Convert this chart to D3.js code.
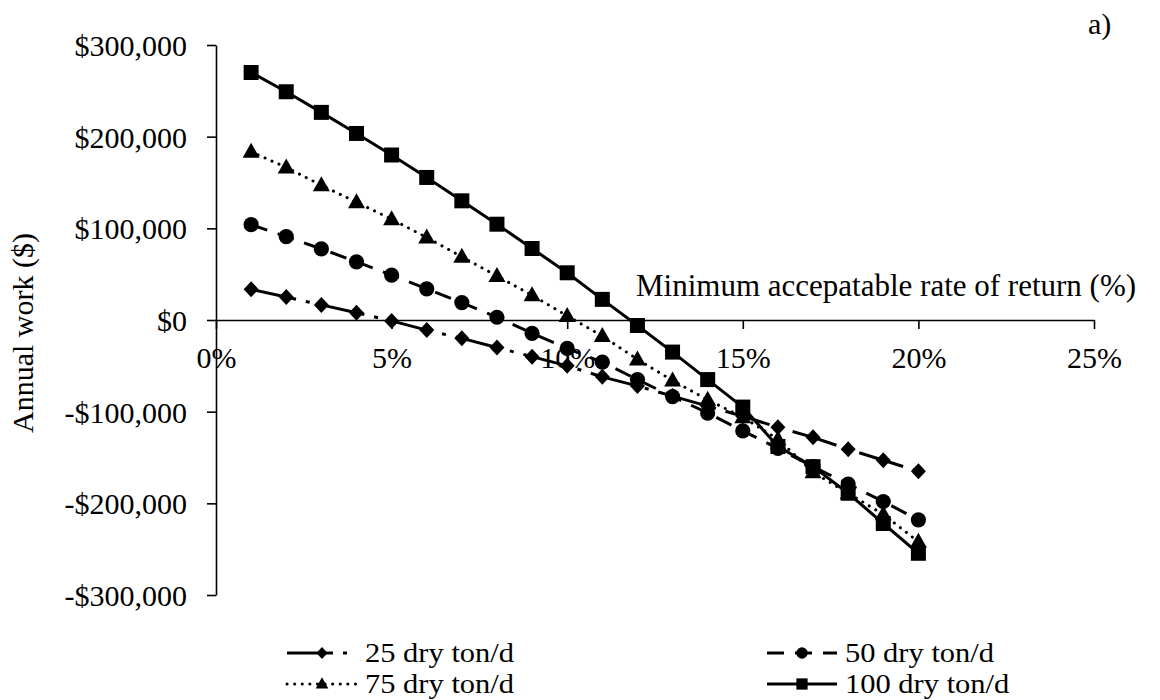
<!DOCTYPE html>
<html><head><meta charset="utf-8">
<script src="https://cdn.jsdelivr.net/npm/d3@7"></script>
<style>
body{margin:0;background:#fff}
svg{display:block}
text{font-family:"Liberation Serif","Times New Roman",serif;fill:#000}
</style>
</head><body>
<svg id="c" width="1160" height="700"></svg>
<script>
// ---- data (values in $, rates in %) ----
const rates = [1,2,3,4,5,6,7,8,9,10,11,12,13,14,15,16,17,18,19,20];
const ton25  = [33500,25000,16500,8000,-1000,-11000,-20000,-30000,-40000,-50000,-62000,-72000,-83000,-94000,-105000,-117000,-128000,-141000,-153000,-165000];
const ton50  = [104000,91000,77500,63500,49000,34000,19000,3000,-14500,-31000,-46000,-65000,-83500,-101500,-121000,-140000,-160000,-179000,-198000,-218000];
const ton75  = [183500,166500,147000,128500,110000,90000,69000,48000,27000,4500,-17500,-43000,-66000,-87000,-106000,-130000,-166000,-189000,-212000,-242000];
const ton100 = [270000,249000,226500,203500,180000,155500,130000,104500,78000,51500,22500,-6000,-35000,-65000,-95000,-138000,-160000,-189000,-222000,-254500];
const seriesNames = ["25 dry ton/d","50 dry ton/d","75 dry ton/d","100 dry ton/d"];
const xTicks = [0,5,10,15,20,25];
const yTicks = [-300000,-200000,-100000,0,100000,200000,300000];
const xTitle = "Minimum accepatable rate of return (%)";
const yTitle = "Annual work ($)";
const panelLabel = "a)";

// ---- setup ----
const svg = d3.select("#c");
const x = d3.scaleLinear().domain([0,25]).range([216,1094]);
const y = d3.scaleLinear().domain([-300000,300000]).range([595,45]);
const FS = 30;

const money = v => (v<0?"-":"") + "$" + d3.format(",")(Math.abs(v));

// y axis
const gy = svg.append("g").attr("transform","translate(216,0)")
  .call(d3.axisLeft(y).tickValues(yTicks).tickSize(9).tickSizeOuter(0).tickPadding(20).tickFormat(money));
gy.selectAll("text").attr("dy",null).attr("y",10.5).style("font-size",FS+"px").style("font-family",'"Liberation Serif",serif');
gy.selectAll("path,line").attr("stroke","#000").attr("stroke-width",1.6);

// x axis at zero
const gx = svg.append("g").attr("transform",`translate(0,${y(0)})`)
  .call(d3.axisBottom(x).tickValues(xTicks).tickSize(9).tickSizeOuter(0).tickFormat(d=>d+"%"));
gx.selectAll("text").attr("dy",null).attr("y",48).style("font-size",FS+"px").style("font-family",'"Liberation Serif",serif');
gx.selectAll("path,line").attr("stroke","#000").attr("stroke-width",1.6);

// titles
svg.append("text").attr("x",636).attr("y",296).style("font-size","31px").text(xTitle);
svg.append("text").attr("transform","translate(33,333) rotate(-90)").attr("text-anchor","middle").style("font-size",FS+"px").text(yTitle);
svg.append("text").attr("x",1088).attr("y",34).style("font-size",FS+"px").text(panelLabel);

// ---- series ----
const shapes = {
  diamond: "M0,-8L7.5,0L0,8L-7.5,0Z",
  circle: d3.symbol().type(d3.symbolCircle).size(Math.PI*7.6*7.6)(),
  triangle: "M0,-9L8.5,6L-8.5,6Z",
  square: "M-7.5,-7.5H7.5V7.5H-7.5Z"
};
const series = [
  {name:seriesNames[0], vals:ton25,  dash:"46,10,4,10", cap:"butt", shape:"diamond"},
  {name:seriesNames[1], vals:ton50,  dash:"17,11", cap:"butt", shape:"circle"},
  {name:seriesNames[2], vals:ton75,  dash:"0.1,7.5", cap:"round", shape:"triangle"},
  {name:seriesNames[3], vals:ton100, dash:null, cap:"butt", shape:"square"}
];
const line = d3.line().x(d=>x(d[0])).y(d=>y(d[1]));

series.forEach(s=>{
  const pts = rates.map((r,i)=>[r,s.vals[i]]);
  svg.append("path").attr("d",line(pts)).attr("fill","none").attr("stroke","#000")
    .attr("stroke-width",3).attr("stroke-linecap",s.cap).attr("stroke-linejoin","round")
    .attr("stroke-dasharray",s.dash);
  svg.append("g").selectAll("path").data(pts).join("path")
    .attr("d",shapes[s.shape]).attr("transform",d=>`translate(${x(d[0])},${y(d[1])})`).attr("fill","#000");
});

// ---- legend ----
const LFS = 27;
const legPos = [[287,653],[767,653],[287,684],[767,684]];
series.forEach((s,i)=>{
  const [lx,ly] = legPos[i];
  const g = svg.append("g");
  g.append("line").attr("x1",lx).attr("x2",lx+70).attr("y1",ly).attr("y2",ly)
    .attr("stroke","#000").attr("stroke-width",3).attr("stroke-linecap",s.cap).attr("stroke-dasharray",s.dash);
  g.append("path").attr("d",shapes[s.shape]).attr("transform",`translate(${lx+35},${ly}) scale(0.75)`).attr("fill","#000");
  g.append("text").attr("transform",`translate(${lx+78},${ly+9}) scale(1.13,1)`).style("font-size",LFS+"px").text(s.name);
});
</script>
</body></html>
